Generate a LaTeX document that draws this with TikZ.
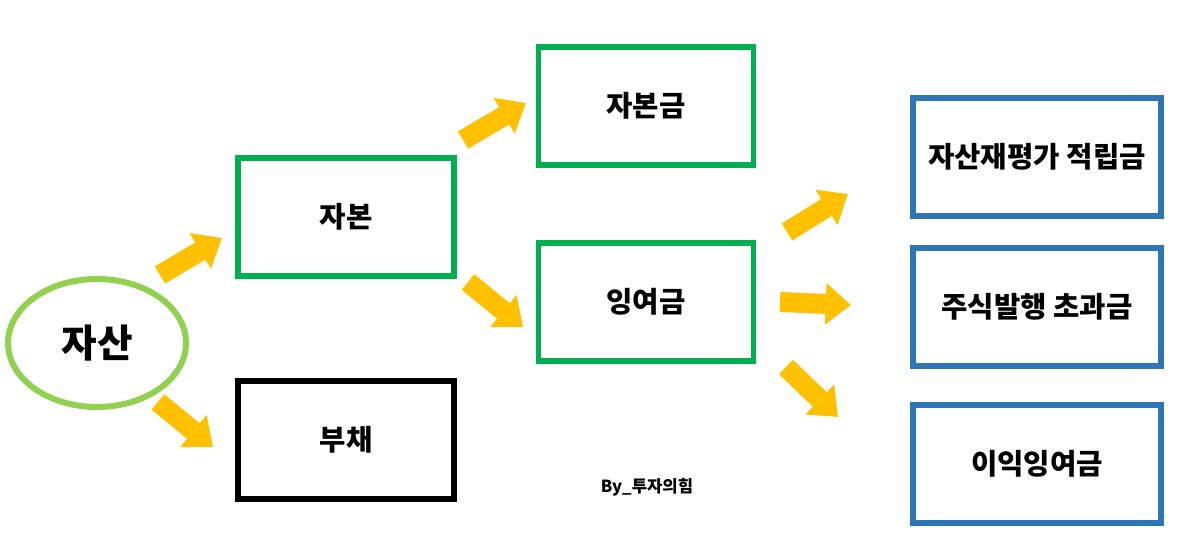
\documentclass[tikz,border=0pt]{standalone}
\usepackage{fontspec}
\setmainfont{Noto Sans CJK KR}
\usetikzlibrary{arrows.meta,shapes.geometric}

\definecolor{boxgreen}{HTML}{00B050}
\definecolor{ovalgreen}{HTML}{92D050}
\definecolor{boxblue}{HTML}{2E75B6}
\definecolor{arrowyellow}{HTML}{FFC000}

\tikzset{
  acct/.style={draw,line width=3.8pt,minimum height=88.5pt,inner sep=0pt,
    font=\fontsize{21.5}{26}\selectfont\bfseries},
  capbox/.style={acct,draw=boxgreen},
  subbox/.style={acct,draw=boxblue},
  fatarrow/.style={draw=arrowyellow,line width=15pt,
    -{Triangle[length=19pt,width=30pt,fill=arrowyellow]}}
}

\begin{document}
\begin{tikzpicture}[x=0.75pt,y=-0.75pt]
    \useasboundingbox (0,0) rectangle (1196,539);
    \node[ellipse,draw=ovalgreen,line width=4.5pt,minimum width=133.5pt,minimum height=96pt,inner sep=0pt,
      font=\fontsize{29}{34}\selectfont\bfseries] (asset) at (97,343) {자산};
    \node[capbox,minimum width=162pt] (capital) at (346,217) {자본};
    \node[acct,draw=black,minimum width=162pt] (debt) at (346,440) {부채};
    \node[capbox,minimum width=161pt] (stock) at (646,106) {자본금};
    \node[capbox,minimum width=161pt] (surplus) at (646,302) {잉여금};
    \node[subbox,minimum width=186pt] (reval) at (1037,157) {자산재평가 적립금};
    \node[subbox,minimum width=186pt] (premium) at (1037,307) {주식발행 초과금};
    \node[subbox,minimum width=186pt] (retained) at (1037,464) {이익잉여금};
    \node[font=\fontsize{12.5}{15}\selectfont\bfseries] (credit) at (647,487) {By\_투자의힘};
    % yellow block arrows, free standing between the boxes
    \coordinate (a1s) at (160,275); \coordinate (a1e) at (222,238);
    \coordinate (a2s) at (158,402); \coordinate (a2e) at (213,447);
    \coordinate (a3s) at (463,140); \coordinate (a3e) at (526,103);
    \coordinate (a4s) at (468,282); \coordinate (a4e) at (523,327);
    \coordinate (a5s) at (787,232); \coordinate (a5e) at (848,194);
    \coordinate (a6s) at (780,302); \coordinate (a6e) at (851,305);
    \coordinate (a7s) at (786,367); \coordinate (a7e) at (838,417);
    \foreach \k in {1,...,7}
      \draw[fatarrow] (a\k s) -- (a\k e);
\end{tikzpicture}
\end{document}
